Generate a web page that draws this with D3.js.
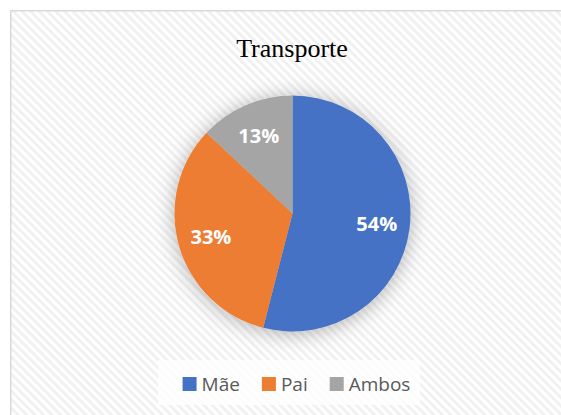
<!DOCTYPE html>
<html>
<head>
<meta charset="utf-8">
<script src="https://cdnjs.cloudflare.com/ajax/libs/d3/7.8.5/d3.min.js"></script>
<style>
  body { margin: 0; background: #fff; }
  svg { display: block; }
</style>
</head>
<body>
<div id="chart"></div>
<script>
var categories = ["Mãe", "Pai", "Ambos"];
var values = [54, 33, 13];
var colors = ["#4472c4", "#ed7d31", "#a5a5a5"];
var title = "Transporte";

var width = 561, height = 415;
var cx = 292.5, cy = 213.5, radius = 118;

var svg = d3.select("#chart").append("svg")
  .attr("width", width)
  .attr("height", height);

var defs = svg.append("defs");

//Light diagonal stripe pattern for the chart area
var pattern = defs.append("pattern")
  .attr("id", "stripes")
  .attr("patternUnits", "userSpaceOnUse")
  .attr("width", 6)
  .attr("height", 6)
  .attr("patternTransform", "rotate(-45)");
pattern.append("rect").attr("width", 6).attr("height", 6).style("fill", "#ffffff");
pattern.append("rect").attr("width", 3).attr("height", 6).style("fill", "#f1f1f1");

//Soft glow around the pie
var filter = defs.append("filter")
  .attr("id", "glow")
  .attr("x", "-30%").attr("y", "-30%")
  .attr("width", "160%").attr("height", "160%");
filter.append("feDropShadow")
  .attr("dx", 0).attr("dy", 2)
  .attr("stdDeviation", 10)
  .attr("flood-color", "#000")
  .attr("flood-opacity", 0.3);

//chart area
svg.append("rect")
  .attr("x", 10.75).attr("y", 10.75)
  .attr("width", 620).attr("height", 460)
  .style("fill", "url(#stripes)")
  .style("stroke", "#d9d9d9")
  .style("stroke-width", 1.5);

svg.append("text")
  .attr("x", 292)
  .attr("y", 57)
  .attr("text-anchor", "middle")
  .style("font-family", "'Liberation Serif', 'Times New Roman', serif")
  .style("font-size", "26px")
  .style("fill", "#000")
  .text(title);

///////////////////////////////////////////////////////////////////////////
////////////////////////////// Pie slices /////////////////////////////////
///////////////////////////////////////////////////////////////////////////

var data = categories.map(function(c, i) { return {name: c, value: values[i], color: colors[i]}; });

var pie = d3.pie()
  .sort(null)
  .value(function(d) { return d.value; });

var arc = d3.arc().innerRadius(0).outerRadius(radius);
var labelArc = d3.arc().innerRadius(radius * 0.72).outerRadius(radius * 0.72);

var pieG = svg.append("g")
  .attr("transform", "translate(" + cx + "," + cy + ")");

pieG.append("g")
  .style("filter", "url(#glow)")
  .selectAll("path")
  .data(pie(data))
  .enter().append("path")
  .attr("d", arc)
  .style("fill", function(d) { return d.data.color; });

var total = d3.sum(values);
pieG.selectAll(".pie-label")
  .data(pie(data))
  .enter().append("text")
  .attr("class", "pie-label")
  .attr("transform", function(d) { return "translate(" + labelArc.centroid(d) + ")"; })
  .attr("dy", "0.35em")
  .attr("text-anchor", "middle")
  .style("font-family", "'Open Sans', sans-serif")
  .style("font-weight", "bold")
  .style("font-size", "20px")
  .style("fill", "#fff")
  .text(function(d) { return Math.round(d.data.value / total * 100) + "%"; });

///////////////////////////////////////////////////////////////////////////
//////////////////////////////// Legend ///////////////////////////////////
///////////////////////////////////////////////////////////////////////////

svg.append("rect")
  .attr("x", 158).attr("y", 360)
  .attr("width", 262).attr("height", 45)
  .style("fill", "#fff")
  .style("opacity", 0.75);

var legend = svg.append("g");
var items = legend.selectAll(".legend-item")
  .data(data)
  .enter().append("g")
  .attr("class", "legend-item");

items.append("rect")
  .attr("y", 377)
  .attr("width", 14)
  .attr("height", 14)
  .style("fill", function(d) { return d.color; });

items.append("text")
  .attr("x", 19)
  .attr("y", 391)
  .style("font-family", "'Open Sans', sans-serif")
  .style("font-size", "19px")
  .style("fill", "#595959")
  .text(function(d) { return d.name; });

//lay out legend entries one after another, centred
var gap = 22;
var xPos = 0, offsets = [];
items.each(function() {
  offsets.push(xPos);
  xPos += 19 + this.querySelector("text").getComputedTextLength() + gap;
});
var legendWidth = xPos - gap;
var startX = 296.5 - legendWidth / 2;
items.attr("transform", function(d, i) { return "translate(" + (startX + offsets[i]) + ",0)"; });
</script>
</body>
</html>
